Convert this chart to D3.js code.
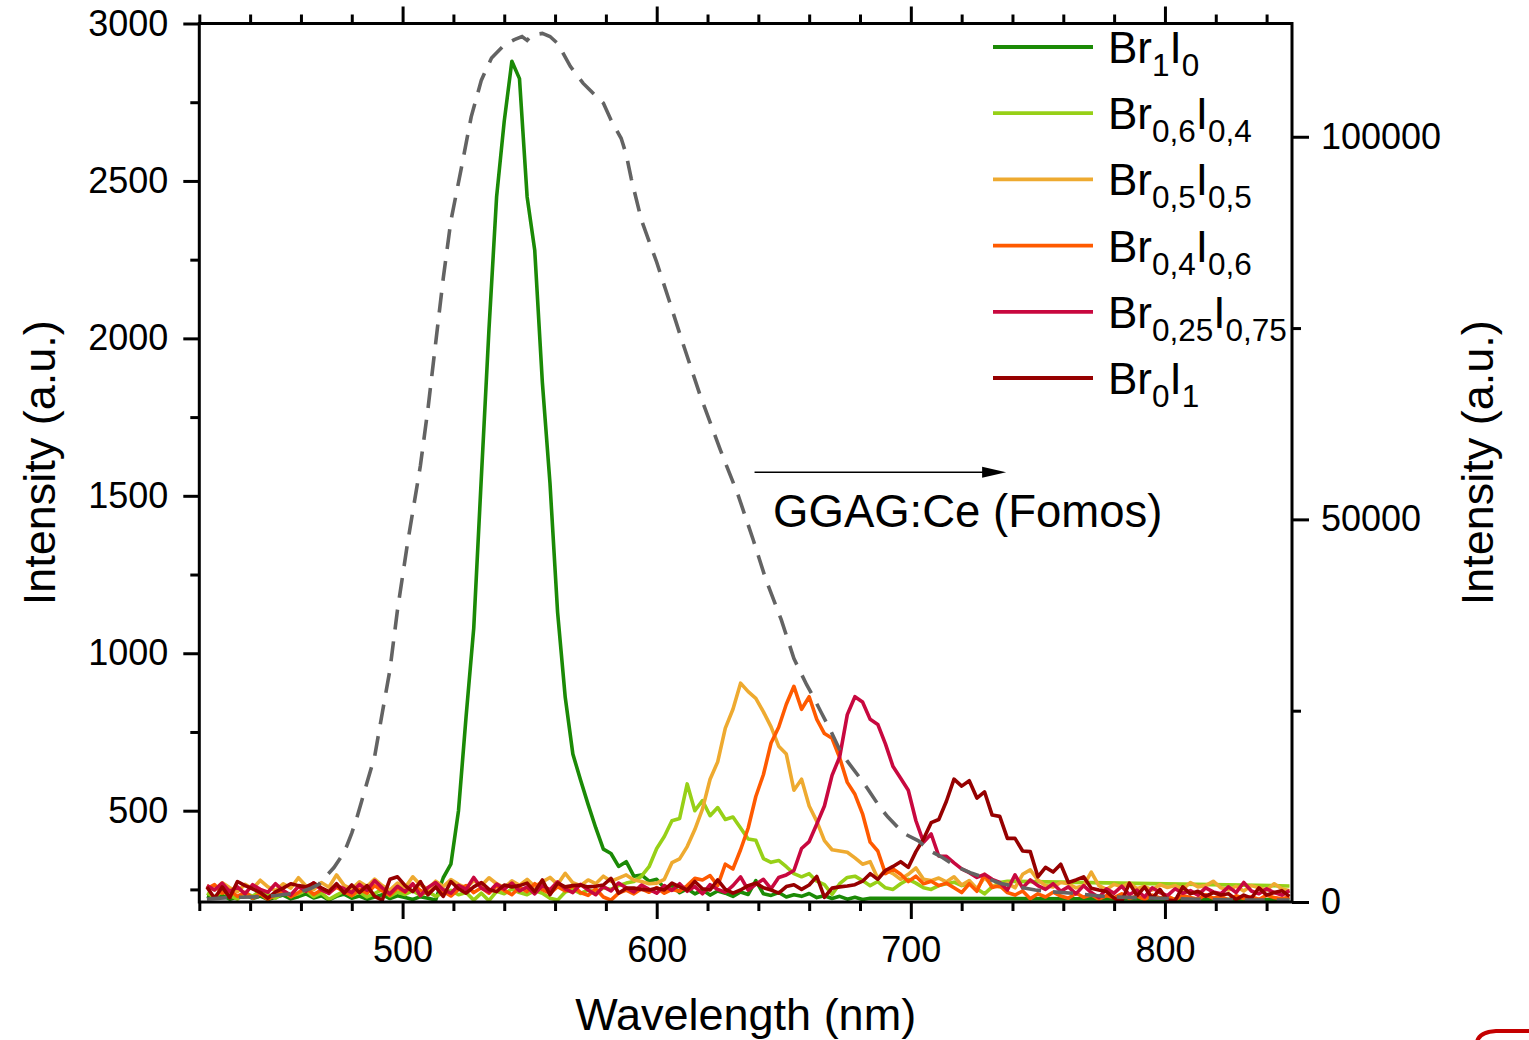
<!DOCTYPE html>
<html>
<head>
<meta charset="utf-8">
<script src="https://cdn.jsdelivr.net/npm/d3@7"></script>
<style>
  html, body { margin: 0; padding: 0; background: #fff; }
  svg { display: block; font-family: "Liberation Sans", Arial, Helvetica, sans-serif; }
</style>
</head>
<body>
<svg id="chart" width="1529" height="1040"></svg>
<script>
// Emission spectra (left axis, a.u.) sampled on a common wavelength grid, nm
const wavelength = [
  423,426,429,432,435,438,441,444,447,450,
  453,456,459,462,465,468,471,474,477,480,
  483,486,489,492,495,498,501,504,507,510,
  513,516,519,522,525,528,531,534,537,540,
  543,546,549,552,555,558,561,564,567,570,
  573,576,579,582,585,588,591,594,597,600,
  603,606,609,612,615,618,621,624,627,630,
  633,636,639,642,645,648,651,654,657,660,
  663,666,669,672,675,678,681,684,687,690,
  693,696,699,702,705,708,711,714,717,720,
  723,726,729,732,735,738,741,744,747,750,
  753,756,759,762,765,768,771,774,777,780,
  783,786,789,792,795,798,801,804,807,810,
  813,816,819,822,825,828,831,834,837,840,
  843,846,849
];

const N = null;

const br1i0 = [
  228,222,231,219,226,234,221,229,218,225,
  232,220,227,236,223,230,217,228,235,222,
  229,219,226,233,221,230,224,218,227,222,
  216,287,330,500,800,1080,1560,2030,2450,2690,
  2880,2825,2450,2280,1860,1540,1130,860,680,598,
  520,446,378,364,323,338,292,296,276,282,
  255,262,240,252,236,248,232,245,238,228,
  242,234,278,236,231,240,226,233,228,237,
  224,230,221,228,219,225,218,222,N,N,
  N,N,N,N,N,N,N,N,N,N,
  N,N,N,N,N,N,N,N,N,N,
  N,N,N,N,N,N,N,N,N,N,
  N,N,N,N,N,N,N,N,N,N,
  N,N,N,N,N,N,N,N,N,N,
  N,N,218
];

const br06i04 = [
  238,226,244,231,219,240,228,247,233,222,
  241,229,236,248,227,239,218,232,245,230,
  242,226,237,250,229,241,234,246,231,243,
  228,239,247,233,240,216,238,214,244,236,
  251,240,233,246,238,222,216,242,250,237,
  248,241,255,250,262,270,275,292,322,380,
  418,468,475,585,500,532,484,510,472,480,
  445,410,406,348,336,342,322,300,290,300,
  276,265,234,268,288,292,278,262,275,255,
  250,268,282,270,255,250,262,268,273,262,
  268,252,236,258,272,276,N,N,N,N,
  N,N,N,N,N,N,N,N,N,N,
  N,N,N,N,N,N,N,N,N,N,
  N,N,N,N,N,N,N,N,N,N,
  N,N,261
];

const br05i05 = [
  262,248,271,255,243,266,252,279,258,246,
  268,254,287,261,249,272,257,296,263,251,
  274,259,283,262,248,270,256,290,264,252,
  276,259,281,266,255,278,262,287,268,256,
  277,263,282,259,274,288,266,301,271,262,
  280,268,292,276,286,296,280,275,268,270,
  282,335,347,386,440,505,600,655,762,822,
  905,878,857,814,766,705,680,565,600,515,
  466,405,376,372,368,350,330,338,285,312,
  300,282,298,318,282,278,286,274,290,264,
  278,252,288,262,258,270,255,298,312,280,
  262,258,272,268,255,262,305,262,250,266,
  258,270,252,260,248,265,256,262,250,272,
  258,262,276,255,248,260,245,262,255,248,
  268,252,246
];

const br04i06 = [
  252,265,238,247,228,241,222,236,218,233,
  247,226,240,255,234,248,239,257,243,230,
  251,238,262,245,232,254,241,266,247,236,
  258,244,229,250,262,240,255,238,261,247,
  233,256,243,268,249,237,259,245,262,240,
  231,252,226,216,238,248,236,252,241,256,
  238,250,244,262,285,280,294,262,330,315,
  376,445,545,615,715,765,838,895,822,862,
  790,745,730,668,590,552,490,400,372,300,
  315,298,275,292,268,276,262,270,255,240,
  268,244,298,256,262,240,232,245,220,236,
  226,241,229,222,238,225,233,219,230,224,
  236,221,229,218,232,223,229,217,231,224,
  219,233,222,228,216,230,221,227,218,232,
  224,220,226
];

const br025i075 = [
  262,248,270,243,258,236,265,250,241,268,
  246,232,259,244,271,249,237,262,252,240,
  266,247,278,255,236,260,243,268,230,256,
  272,249,238,263,250,288,254,242,267,251,
  270,245,258,236,262,249,274,252,240,266,
  248,233,259,245,270,255,242,264,250,238,
  262,247,268,244,259,236,265,250,241,262,
  290,248,266,282,252,288,296,310,380,402,
  458,515,612,671,805,862,845,790,774,712,
  640,603,565,468,400,426,356,355,334,315,
  303,288,298,282,272,248,296,255,280,262,
  250,268,244,258,236,262,240,224,252,238,
  260,233,248,226,255,240,230,252,238,246,
  232,255,242,236,258,240,272,245,236,252,
  240,232,246
];

const br0i1 = [
  258,222,258,224,275,262,252,240,222,242,
  254,268,262,258,270,255,243,268,238,264,
  240,262,228,216,282,290,262,243,275,233,
  258,228,275,252,238,258,272,250,243,264,
  258,262,270,243,280,233,270,258,262,264,
  258,260,264,285,238,254,254,250,248,254,
  248,270,258,248,275,252,248,280,250,238,
  248,262,270,255,248,238,259,265,250,264,
  291,225,254,258,261,265,276,300,282,310,
  323,338,320,370,410,462,472,530,600,578,
  595,540,560,486,482,412,412,372,370,290,
  320,305,330,272,280,290,254,248,243,222,
  212,270,230,258,222,250,216,214,258,236,
  244,228,240,232,236,218,232,222,255,232,
  240,246,228
];

// Reference scintillator emission (right axis)
const ggagWavelength = [
  423,430,437,444,450,455,460,464,467,470,
  473,476,478,480,482,484,486,489,492,495,
  498,502,507,510,513,516,519,523,527,531,
  535,540,544,547,549,551,555,558,561,566,
  571,574,579,582,586,588,590,594,600,605,
  610,617,625,632,638,643,649,654,659,661,
  665,668,672,675,680,683,688,691,697,703,
  708,712,718,724,730,735,742,749,755,764,
  777,794,813,830,849
];
const ggagIntensity = [
  390,540,630,690,850,1050,1350,1800,2300,3400,
  4500,6000,7300,9000,11000,13300,15600,19000,24700,30300,
  38200,47000,57000,64500,73000,81500,89000,95700,102600,107400,
  110300,112000,112700,113100,112600,113300,113500,113100,112200,109200,
  107000,106000,104400,102200,99800,97700,94500,89100,83600,78500,
  73300,66300,59100,53200,47300,42100,36900,31800,28400,27200,
  24600,22700,19900,18400,16200,14800,12300,11100,9000,8000,
  6600,5900,4600,3750,3100,2450,2000,1570,1350,1140,
  700,520,350,270,260
];

const seriesValues = [br1i0, br06i04, br05i05, br04i06, br025i075, br0i1];
const seriesColors = ["#1b8a06", "#97d017", "#eeaa30", "#ff5a00", "#c8083f", "#960000"];
// Legend labels: [base, subscript, base, subscript]
const legendLabels = [
  ["Br", "1", "I", "0"],
  ["Br", "0,6", "I", "0,4"],
  ["Br", "0,5", "I", "0,5"],
  ["Br", "0,4", "I", "0,6"],
  ["Br", "0,25", "I", "0,75"],
  ["Br", "0", "I", "1"]
];

const xMajorTicks = [500, 600, 700, 800];
const leftMajorTicks = [500, 1000, 1500, 2000, 2500, 3000];
const leftMinorTicks = [250, 750, 1250, 1750, 2250, 2750];
const rightMajorTicks = [0, 50000, 100000];
const rightMinorTicks = [25000, 75000];
const xMinorTicks = d3.range(420, 851, 20).filter(v => !xMajorTicks.includes(v));

const referenceLabel = "GGAG:Ce (Fomos)";

// ---- layout ----
const svg = d3.select("#chart");
const plot = { left: 199.3, right: 1292, top: 23.5, bottom: 902 };

const x = d3.scaleLinear().domain([420, 850]).range([plot.left, plot.right]);
const yL = d3.scaleLinear().domain([210, 3000]).range([plot.bottom, plot.top]);
const yR = d3.scaleLinear().domain([0, 114800]).range([plot.bottom, plot.top]);

svg.append("defs").append("clipPath").attr("id", "plotClip")
  .append("rect")
  .attr("x", plot.left).attr("y", plot.top)
  .attr("width", plot.right - plot.left).attr("height", plot.bottom - plot.top);

const dataLayer = svg.append("g").attr("clip-path", "url(#plotClip)");

// spectra
const lineL = d3.line().x(d => x(d[0])).y(d => yL(d[1]));
seriesValues.forEach((vals, i) => {
  const pts = wavelength.map((w, j) => [w, vals[j]]).filter(p => p[1] != null);
  dataLayer.append("path")
    .attr("d", lineL(pts))
    .attr("fill", "none")
    .attr("stroke", seriesColors[i])
    .attr("stroke-width", 3.6)
    .attr("stroke-linejoin", "round");
});

// reference emission, dashed, right axis
const lineR = d3.line().x(d => x(d[0])).y(d => yR(d[1]));
dataLayer.append("path")
  .attr("d", lineR(ggagWavelength.map((w, j) => [w, ggagIntensity[j]])))
  .attr("fill", "none")
  .attr("stroke", "#636363")
  .attr("stroke-width", 3.6)
  .attr("stroke-dasharray", "20 12");

// ---- axes ----
function styleAxis(g) {
  g.select(".domain").remove();
  g.selectAll(".tick line").attr("stroke", "#000").attr("stroke-width", 3);
  g.selectAll(".tick text").attr("fill", "#000").style("font-size", "36px");
}

const MAJ = 17, MIN = 9;

svg.append("g").attr("transform", `translate(0,${plot.bottom})`)
  .call(d3.axisBottom(x).tickValues(xMajorTicks).tickSize(MAJ).tickPadding(17).tickFormat(d3.format("d")))
  .call(styleAxis);
svg.append("g").attr("transform", `translate(0,${plot.bottom})`)
  .call(d3.axisBottom(x).tickValues(xMinorTicks).tickSize(MIN).tickFormat(""))
  .call(styleAxis);

svg.append("g").attr("transform", `translate(0,${plot.top})`)
  .call(d3.axisTop(x).tickValues(xMajorTicks).tickSize(MAJ).tickFormat(""))
  .call(styleAxis);
svg.append("g").attr("transform", `translate(0,${plot.top})`)
  .call(d3.axisTop(x).tickValues(xMinorTicks).tickSize(MIN).tickFormat(""))
  .call(styleAxis);

svg.append("g").attr("transform", `translate(${plot.left},0)`)
  .call(d3.axisLeft(yL).tickValues(leftMajorTicks).tickSize(16).tickPadding(15).tickFormat(d3.format("d")))
  .call(styleAxis);
svg.append("g").attr("transform", `translate(${plot.left},0)`)
  .call(d3.axisLeft(yL).tickValues(leftMinorTicks).tickSize(MIN).tickFormat(""))
  .call(styleAxis);

svg.append("g").attr("transform", `translate(${plot.right},0)`)
  .call(d3.axisRight(yR).tickValues(rightMajorTicks).tickSize(MAJ).tickPadding(12).tickFormat(d3.format("d")))
  .call(styleAxis);
svg.append("g").attr("transform", `translate(${plot.right},0)`)
  .call(d3.axisRight(yR).tickValues(rightMinorTicks).tickSize(MIN).tickFormat(""))
  .call(styleAxis);

// frame
svg.append("rect")
  .attr("x", plot.left).attr("y", plot.top)
  .attr("width", plot.right - plot.left).attr("height", plot.bottom - plot.top)
  .attr("fill", "none").attr("stroke", "#000").attr("stroke-width", 3);

// ---- axis titles ----
svg.append("text")
  .attr("transform", `translate(55,${(plot.top + plot.bottom) / 2}) rotate(-90)`)
  .attr("text-anchor", "middle").style("font-size", "45px").attr("fill", "#000")
  .text("Intensity (a.u.)");
svg.append("text")
  .attr("transform", `translate(1493,${(plot.top + plot.bottom) / 2}) rotate(-90)`)
  .attr("text-anchor", "middle").style("font-size", "45px").attr("fill", "#000")
  .text("Intensity (a.u.)");
svg.append("text")
  .attr("x", (plot.left + plot.right) / 2).attr("y", 1030)
  .attr("text-anchor", "middle").style("font-size", "45px").attr("fill", "#000")
  .text("Wavelength (nm)");

// ---- legend ----
const legend = svg.append("g");
legendLabels.forEach((lab, i) => {
  const ly = 47 + 66.2 * i;
  legend.append("line")
    .attr("x1", 993).attr("x2", 1093).attr("y1", ly).attr("y2", ly)
    .attr("stroke", seriesColors[i]).attr("stroke-width", 3.8);
  const t = legend.append("text").attr("x", 1108).attr("y", ly + 16).attr("fill", "#000");
  t.append("tspan").style("font-size", "44px").text(lab[0]);
  t.append("tspan").style("font-size", "31.5px").attr("dy", 13).text(lab[1]);
  t.append("tspan").style("font-size", "44px").attr("dy", -13).text(lab[2]);
  t.append("tspan").style("font-size", "31.5px").attr("dy", 13).text(lab[3]);
});

// ---- annotation: arrow pointing to the right-hand axis ----
const arrowY = yL(1575);
const ax0 = x(638.5), ax1 = x(737.5);
svg.append("line")
  .attr("x1", ax0).attr("x2", ax1 - 20).attr("y1", arrowY).attr("y2", arrowY)
  .attr("stroke", "#000").attr("stroke-width", 1.6);
svg.append("path")
  .attr("d", `M${ax1},${arrowY} L${ax1 - 24},${arrowY - 5.5} L${ax1 - 24},${arrowY + 5.5} Z`)
  .attr("fill", "#000");
svg.append("text")
  .attr("x", x(645.8)).attr("y", yL(1400))
  .style("font-size", "45.5px").attr("fill", "#000")
  .text(referenceLabel);

// corner emblem fragment
svg.append("path")
  .attr("d", "M1477,1042 Q1479,1032 1496,1031 L1529,1031")
  .attr("fill", "none").attr("stroke", "#c40000").attr("stroke-width", 4);
</script>
</body>
</html>
